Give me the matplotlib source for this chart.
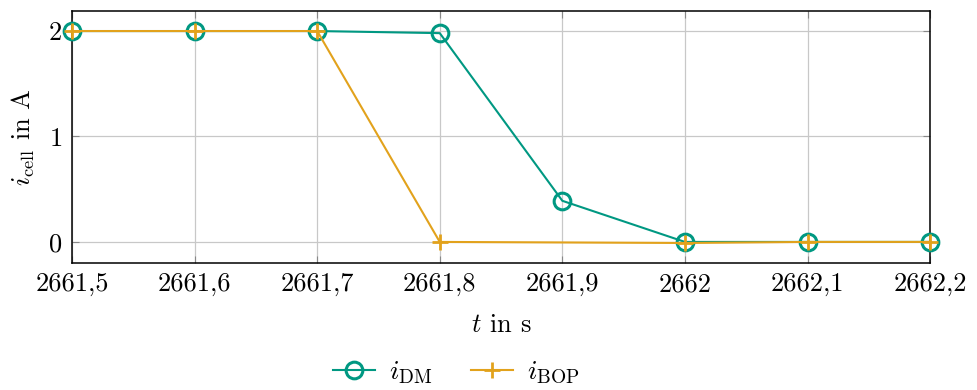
import matplotlib
matplotlib.use("Agg")
import matplotlib.pyplot as plt

plt.rcParams['font.family'] = 'serif'
plt.rcParams['font.serif'] = ['cmr10']
plt.rcParams['mathtext.fontset'] = 'cm'
plt.rcParams['axes.formatter.use_mathtext'] = True

# current traces around the switching instant
t_dm = [2661.5, 2661.6, 2661.7, 2661.8, 2661.9, 2662.0, 2662.1, 2662.2]
i_dm = [2.0, 2.0, 2.0, 1.98, 0.39, 0.0, 0.0, 0.0]
t_bop = [2661.5, 2661.6, 2661.7, 2661.8, 2662.0, 2662.1, 2662.2]
i_bop = [2.0, 2.0, 2.0, 0.0, -0.01, 0.0, 0.0]

x_ticks = [2661.5, 2661.6, 2661.7, 2661.8, 2661.9, 2662.0, 2662.1, 2662.2]
x_labels = ['2661,5', '2661,6', '2661,7', '2661,8', '2661,9', '2662', '2662,1', '2662,2']
y_ticks = [0, 1, 2]

green = '#009882'
orange = '#E2A21C'

fig = plt.figure(figsize=(9.77, 3.9), dpi=100)
ax = fig.add_axes([0.0737, 0.3256, 0.8783, 0.6462])

ax.plot(t_dm, i_dm, color=green, lw=1.5, marker='o', ms=12, mfc='none',
        mew=2.2, label=r'$i_{\mathrm{DM}}$', zorder=3, clip_on=False)
ax.plot(t_bop, i_bop, color=orange, lw=1.5, marker='+', ms=12,
        mew=2.0, label=r'$i_{\mathrm{BOP}}$', zorder=4, clip_on=False)

ax.set_xlim(2661.5, 2662.2)
ax.set_ylim(-0.2, 2.19)
ax.set_xticks(x_ticks)
ax.set_xticklabels(x_labels)
ax.set_yticks(y_ticks)
ax.grid(True, color='#c8c8c8', lw=0.9)
ax.set_axisbelow(True)
ax.tick_params(direction='in', top=True, right=True, labelsize=19,
               length=5, color='#888888', pad=7)
for s in ax.spines.values():
    s.set_linewidth(1.1)

ax.set_xlabel(r'$t$ in s', fontsize=19, labelpad=12)
ax.set_ylabel(r'$i_{\mathrm{cell}}$ in A', fontsize=19, labelpad=8)

fig.legend(loc='lower center', bbox_to_anchor=(0.467, -0.055), ncol=2,
           frameon=False, fontsize=20, handlelength=1.5, columnspacing=1.4,
           handletextpad=0.5)

fig.savefig('out.png', dpi=100)
